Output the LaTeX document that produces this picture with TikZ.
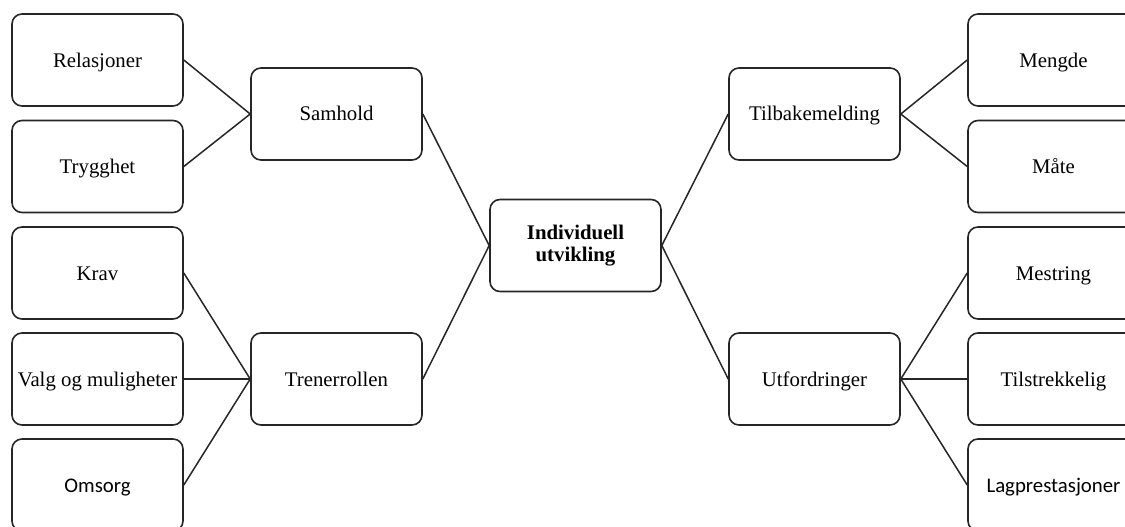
\documentclass[tikz,border=0pt]{standalone}
\usepackage{fontspec}
\setmainfont{Liberation Serif}
\newfontfamily\carlito{Carlito}
\usepackage{tikz}

\begin{document}
\begin{tikzpicture}[x=1pt, y=-1pt, line width=1.6pt,
  every node/.style={font=\fontsize{20.8}{23}\selectfont},
  box/.style={draw=black!85, rounded corners=10pt, minimum width=171pt,
    minimum height=92pt, inner sep=0pt, align=center,
    text height=14pt, text depth=0pt},
  link/.style={draw=black!85, line width=1.5pt}]
\clip (0,0) rectangle (1125,527);
% left column
\node[box] (rel)  at (97.5,60)    {Relasjoner};
\node[box] (tryg) at (97.5,166.5) {Trygghet};
\node[box] (krav) at (97.5,273)   {Krav};
\node[box] (valg) at (97.5,379)   {Valg og muligheter};
\node[box] (oms)  at (97.5,485)   {\carlito Omsorg};
% left themes
\node[box] (samh) at (336.5,114)  {Samhold};
\node[box] (tren) at (336.5,379)  {Trenerrollen};
% centre
\node[box, text height=, text depth=, font=\fontsize{20.8}{22}\selectfont\bfseries]
  (ind) at (575.5,245.5) {Individuell\\utvikling};
% right themes
\node[box] (tilb) at (814.5,114)  {Tilbakemelding};
\node[box] (utf)  at (814.5,379)  {Utfordringer};
% right column
\node[box] (meng) at (1053.5,60)    {Mengde};
\node[box] (mate) at (1053.5,166.5) {Måte};
\node[box] (mest) at (1053.5,273)   {Mestring};
\node[box] (tils) at (1053.5,379)   {Tilstrekkelig};
\node[box] (lag)  at (1053.5,485)   {\carlito Lagprestasjoner};
% connectors
\foreach \a in {rel,tryg} \draw[link] (\a.east) -- (samh.west);
\foreach \a in {krav,valg,oms} \draw[link] (\a.east) -- (tren.west);
\foreach \a in {meng,mate} \draw[link] (\a.west) -- (tilb.east);
\foreach \a in {mest,tils,lag} \draw[link] (\a.west) -- (utf.east);
\draw[link] (samh.east) -- (ind.west);
\draw[link] (tren.east) -- (ind.west);
\draw[link] (tilb.west) -- (ind.east);
\draw[link] (utf.west) -- (ind.east);
\end{tikzpicture}
\end{document}
